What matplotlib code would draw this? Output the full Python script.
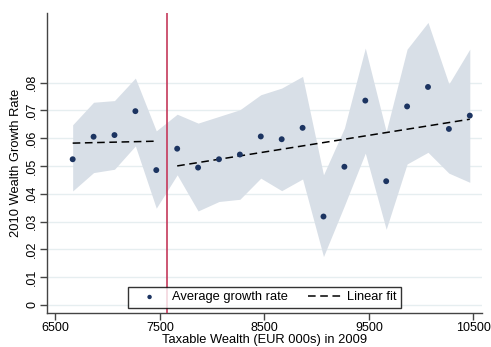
import matplotlib
matplotlib.use("Agg")
import matplotlib.pyplot as plt
import numpy as np

plt.rcParams['font.family'] = ['Liberation Sans', 'DejaVu Sans']

wealth = [6665, 6865, 7065, 7265, 7465, 7665, 7865, 8065, 8265, 8465,
          8665, 8865, 9065, 9265, 9465, 9665, 9865, 10065, 10265, 10465]
growth = [0.0524, 0.0605, 0.0611, 0.0697, 0.0485, 0.0562, 0.0494, 0.0524, 0.0541, 0.0606,
          0.0596, 0.0637, 0.0318, 0.0497, 0.0735, 0.0445, 0.0714, 0.0784, 0.0633, 0.0681]
ci_upper = [0.0648, 0.0729, 0.0735, 0.0816, 0.0626, 0.0686, 0.0654, 0.0678, 0.0702, 0.0756,
            0.0780, 0.0822, 0.0468, 0.0636, 0.0924, 0.0624, 0.0920, 0.1016, 0.0795, 0.0920]
ci_lower = [0.0410, 0.0476, 0.0488, 0.0572, 0.0348, 0.0468, 0.0338, 0.0372, 0.0380, 0.0456,
            0.0411, 0.0453, 0.0174, 0.0357, 0.0546, 0.0272, 0.0507, 0.0549, 0.0474, 0.0441]
fit_left_x = [6665, 7465]
fit_left_y = [0.0582, 0.0589]
fit_right_x = [7665, 10465]
fit_right_y = [0.0500, 0.0668]
threshold = 7566
xticks = [6500, 7500, 8500, 9500, 10500]
yticks = [0, 0.01, 0.02, 0.03, 0.04, 0.05, 0.06, 0.07, 0.08]
ytick_labels = ['0', '.01', '.02', '.03', '.04', '.05', '.06', '.07', '.08']

fig = plt.figure(figsize=(4.91, 3.47), dpi=100)
ax = fig.add_axes([0.0963, 0.098, 0.885, 0.8645])

ax.fill_between(wealth, ci_lower, ci_upper, color='#d8dfe7', lw=0, zorder=1)
for y in yticks:
    ax.axhline(y, color='#e6eef0', lw=1.0, zorder=0.5)
ax.axvline(threshold, color='#c5395b', lw=1.2, zorder=3)
ax.plot(fit_left_x, fit_left_y, color='black', lw=1.1, ls=(0, (5, 3)), zorder=4)
ax.plot(fit_right_x, fit_right_y, color='black', lw=1.1, ls=(0, (5, 3)), zorder=4,
        label='Linear fit')
ax.scatter(wealth, growth, s=18, color='#1c3461', zorder=5, label='Average growth rate',
           edgecolors='none')

ax.set_xlim(6422, 10580)
ax.set_ylim(-0.0029, 0.105)
ax.set_xticks(xticks)
ax.set_xticklabels([str(t) for t in xticks])
ax.set_yticks(yticks)
ax.set_yticklabels(ytick_labels, rotation=90, va='center')
ax.tick_params(axis='both', direction='out', length=5, width=1, color='#444444',
               labelsize=9, pad=1.5)
for s in ['top', 'right']:
    ax.spines[s].set_visible(False)
for s in ['left', 'bottom']:
    ax.spines[s].set_color('#444444')
    ax.spines[s].set_linewidth(1.0)
ax.set_xlabel('Taxable Wealth (EUR 000s) in 2009', fontsize=9.3, labelpad=0)
ax.set_ylabel('2010 Wealth Growth Rate', fontsize=9.3, labelpad=3)

h, l = ax.get_legend_handles_labels()
order = [1, 0]
leg = ax.legend([h[i] for i in order], [l[i] for i in order], ncol=2, loc='lower center',
                bbox_to_anchor=(0.5, 0.017), borderaxespad=0, frameon=True, fancybox=False,
                edgecolor='black', fontsize=9.3, handlelength=2.6, columnspacing=1.6,
                borderpad=0.35, handletextpad=0.4, markerscale=0.75)
leg.get_frame().set_linewidth(1.0)

fig.savefig('out.png', dpi=100, facecolor='white')
